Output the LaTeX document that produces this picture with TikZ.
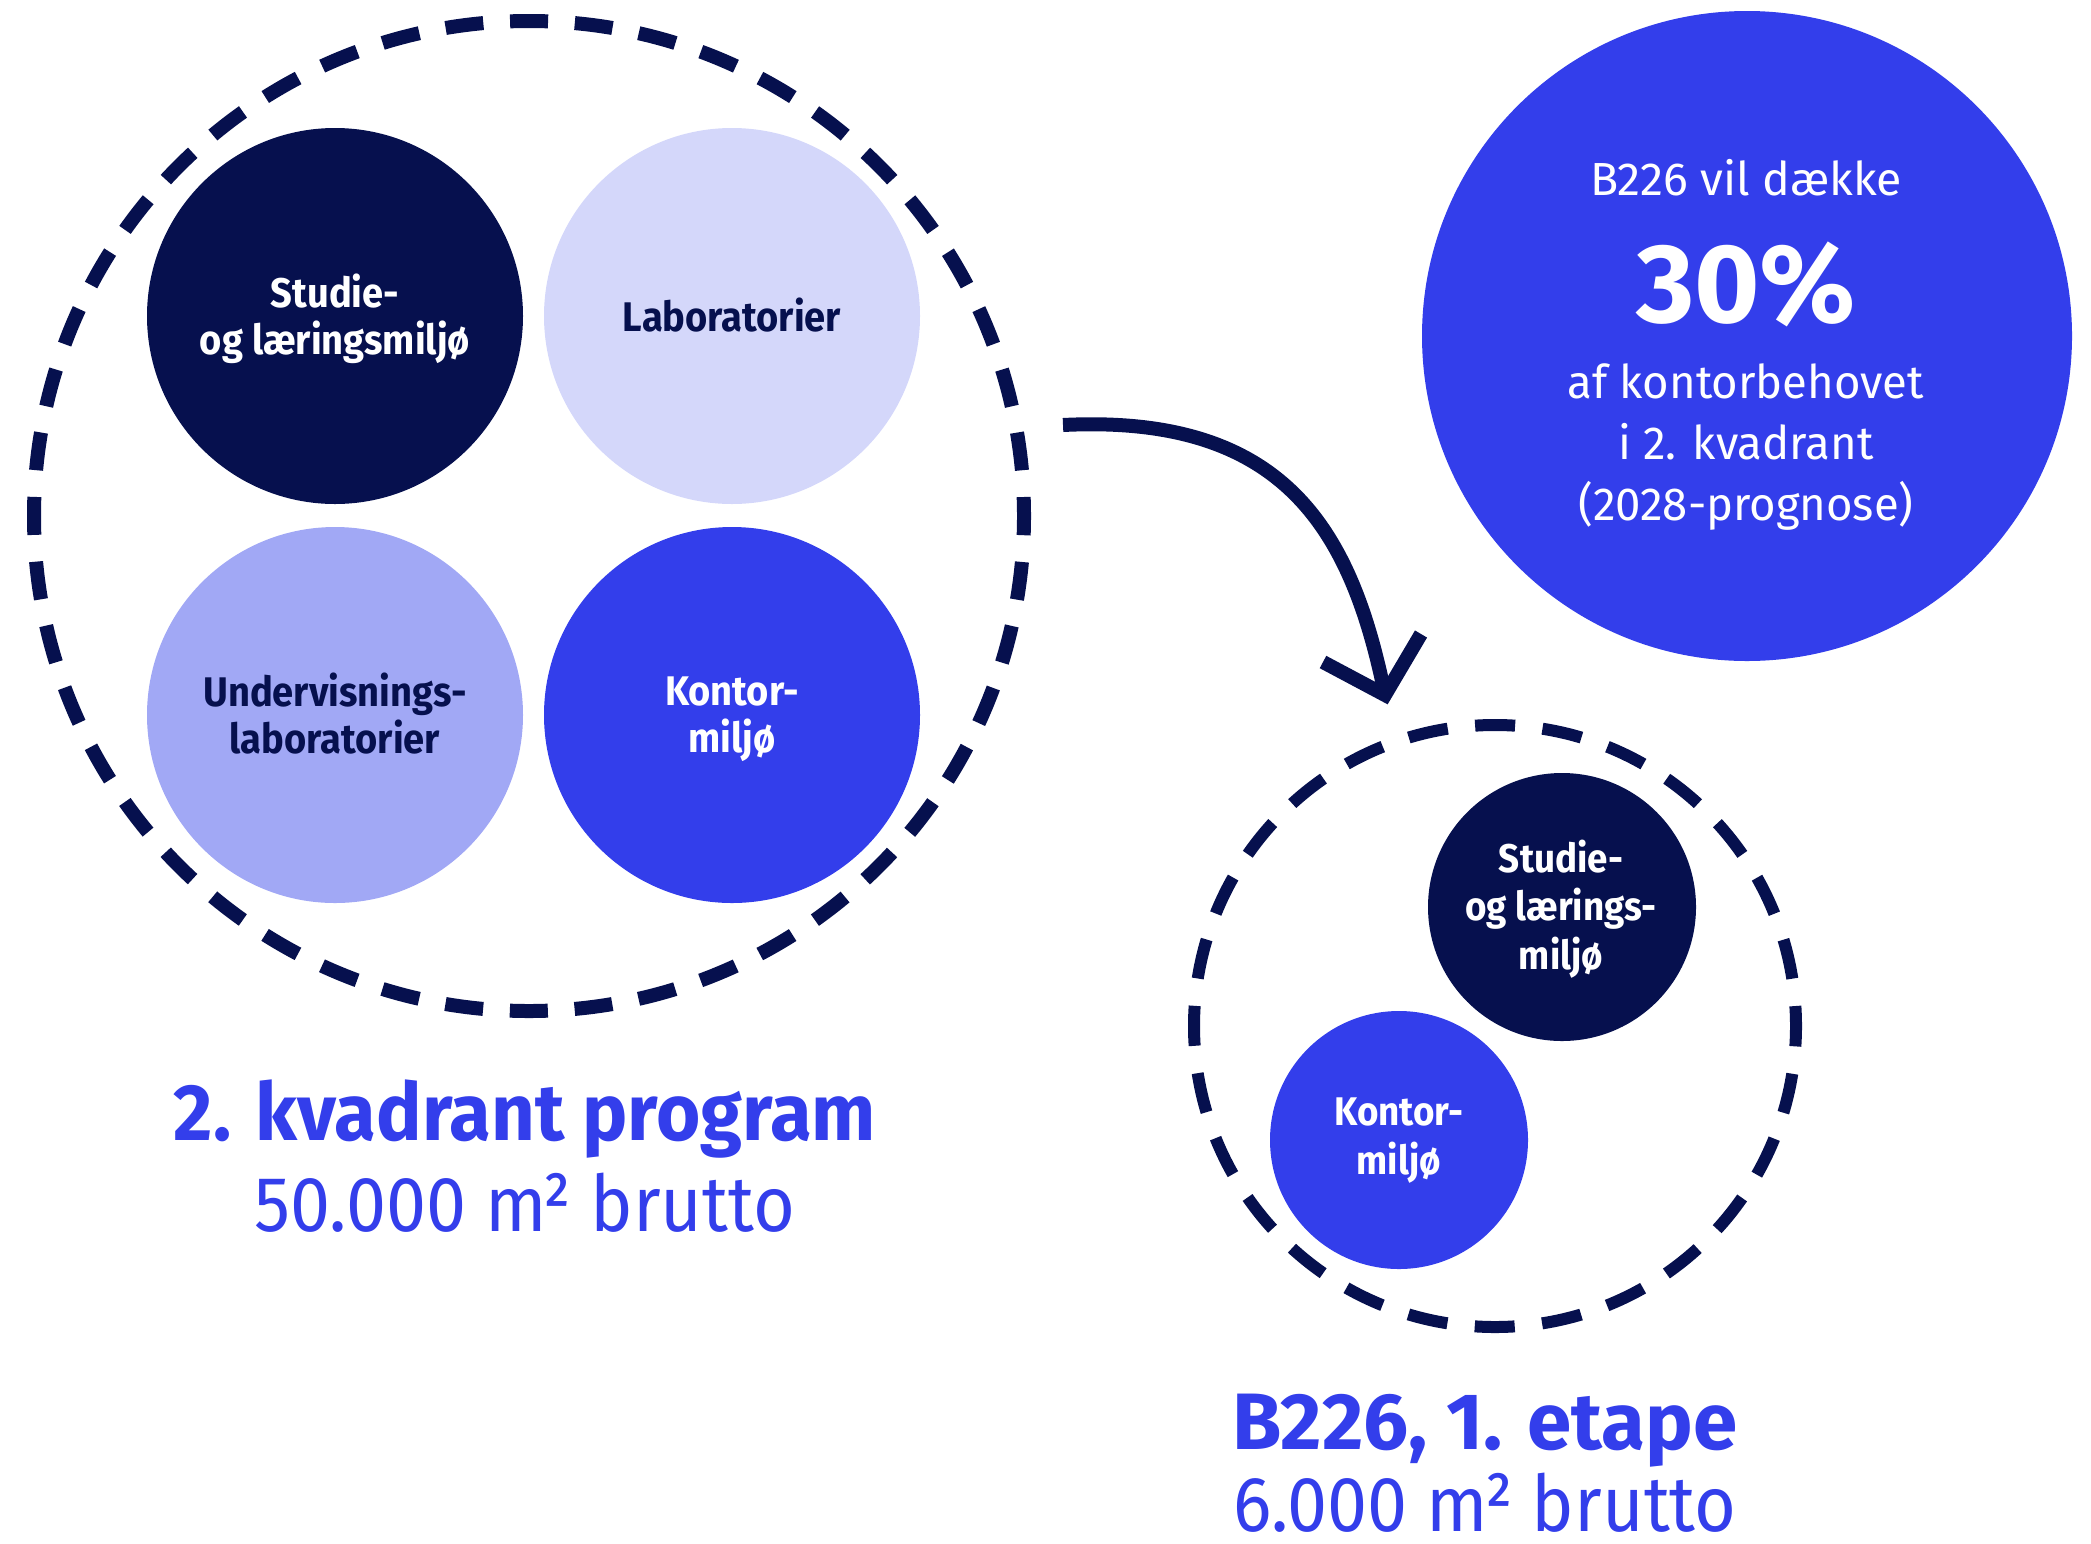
\documentclass[tikz,border=0pt]{standalone}
\usepackage{fontspec}
\setmainfont{Fira Sans}[FakeStretch=0.92]
\newfontfamily\fsmid{Fira Sans}[FakeStretch=0.95]
\newfontfamily\fsinfo{Fira Sans}[FakeStretch=0.98]
\newfontfamily\fswide{Fira Sans}[FakeStretch=1.0]
\usetikzlibrary{calc}
\definecolor{navy}{RGB}{6,16,78}
\definecolor{brightblue}{RGB}{51,62,235}
\definecolor{lavender}{RGB}{212,215,250}
\definecolor{midblue}{RGB}{161,168,245}
\begin{document}
\begin{tikzpicture}[x=0.5pt,y=-0.5pt,
  disc/.style={circle, inner sep=0pt, outer sep=0pt, draw=none},
  ring/.style={circle, inner sep=0pt, outer sep=0pt, draw=navy, line cap=butt},
  lbl/.style={align=center, anchor=base, inner sep=0pt, font=\bfseries\fontsize{20.7pt}{23.5pt}\selectfont},
  slbl/.style={align=center, anchor=base, inner sep=0pt, font=\bfseries\fontsize{20pt}{24.25pt}\selectfont},
  infotxt/.style={align=center, anchor=base, inner sep=0pt, text=white, font=\fsinfo\fontsize{23.2pt}{30.5pt}\selectfont},
  title/.style={anchor=base, inner sep=0pt, text=brightblue},
  subtitle/.style={anchor=base, inner sep=0pt, text=brightblue, font=\fontsize{39pt}{45pt}\selectfont},
  arrowline/.style={draw=navy, line width=7pt}
]
\useasboundingbox (0,0) rectangle (2091,1543);

% big dashed ring and its four discs
\node[ring, line width=7pt, minimum size=495pt, dash pattern=on 19pt off 13.4pt, dash phase=9.5pt] (bigring) at (529,516) {};
\node[disc, fill=navy, minimum size=188pt] (studie) at (335,316) {};
\node[disc, fill=lavender, minimum size=188pt] (lab) at (732,316) {};
\node[disc, fill=midblue, minimum size=188pt] (underv) at (335,715) {};
\node[disc, fill=brightblue, minimum size=188pt] (kontor) at (732,715) {};
\node[lbl, text=white] (studielbl) at (335,354.6) {Studie-\\og læringsmiljø};
\node[lbl, text=navy] (lablbl) at (732,331) {Laboratorier};
\node[lbl, text=navy] (undervlbl) at (335,753.7) {Undervisnings-\\laboratorier};
\node[lbl, text=white] (kontorlbl) at (732,752) {Kontor-\\miljø};

\node[title, font=\fsmid\bfseries\fontsize{40pt}{45pt}\selectfont] (lefttitle) at (525,1140) {2. kvadrant program};
\node[subtitle] (leftsub) at (525,1231) {50.000 m\kern-2pt² brutto};

% info disc
\node[disc, fill=brightblue, minimum size=325pt] (info) at (1747,336) {};
\node[infotxt, font=\fswide\fontsize{23.2pt}{30.5pt}\selectfont] (info1) at (1746,195) {B226 vil dække};
\node[infotxt, font=\fswide\bfseries\fontsize{56pt}{60pt}\selectfont] (info2) at (1746,322) {30\%};
\node[infotxt] (info3) at (1746,520) {af kontorbehovet\\i 2. kvadrant\\(2028-prognose)};

% small dashed ring
\node[ring, line width=6pt, minimum size=301pt, dash pattern=on 20pt off 13.77pt, dash phase=10pt] (smallring) at (1495,1026) {};
\node[disc, fill=navy, minimum size=134pt] (sstudie) at (1562,907) {};
\node[disc, fill=brightblue, minimum size=129pt] (skontor) at (1399,1140) {};
\node[slbl, text=white] (sstudielbl) at (1561,969) {Studie-\\og lærings-\\miljø};
\node[slbl, text=white] (skontorlbl) at (1399,1174) {Kontor-\\miljø};

\node[title, font=\fswide\bfseries\fontsize{40pt}{45pt}\selectfont] (righttitle) at (1485,1449) {B226, 1. etape};
\node[subtitle] (rightsub) at (1485,1531) {6.000 m\kern-2pt² brutto};

% arrow
\coordinate (arrowstart) at (1063,425);
\coordinate (arrowtip) at (1385,695);
\draw[arrowline] (arrowstart) .. controls (1283,414) and (1351,528) .. (arrowtip);
\draw[arrowline, line join=miter] ($(arrowtip)+(-62,-33)$) -- (arrowtip) -- ($(arrowtip)+(36,-61)$);
\end{tikzpicture}
\end{document}
